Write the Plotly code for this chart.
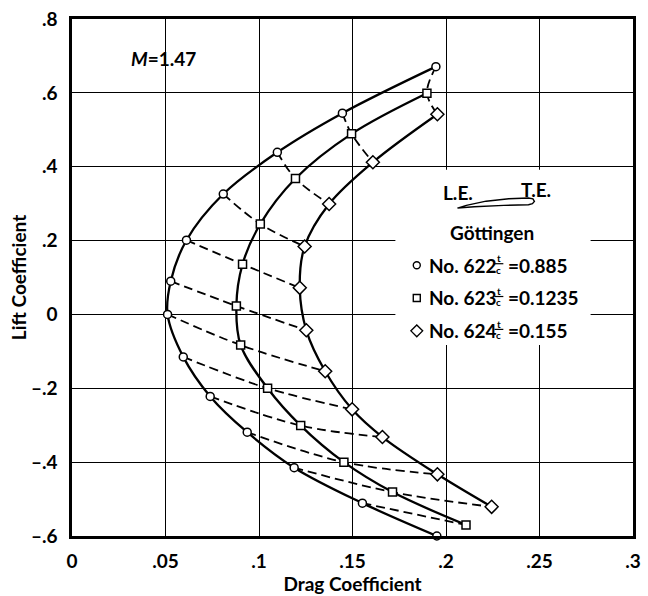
import plotly.graph_objects as go

# Göttingen profiles at M = 1.47: drag coefficient vs lift coefficient
cd_622 = [0.1946, 0.1446, 0.1098, 0.0809, 0.0612, 0.0528, 0.0511, 0.0595, 0.0739, 0.0937, 0.1188, 0.1553, 0.1951]
cl_622 = [0.671, 0.545, 0.439, 0.326, 0.201, 0.090, 0.0, -0.115, -0.222, -0.319, -0.415, -0.511, -0.600]

cd_623 = [0.1898, 0.1495, 0.1195, 0.1007, 0.0912, 0.0879, 0.0902, 0.1046, 0.1223, 0.1454, 0.1714, 0.2107]
cl_623 = [0.599, 0.489, 0.368, 0.245, 0.136, 0.023, -0.083, -0.200, -0.301, -0.400, -0.481, -0.570]

cd_624 = [0.1954, 0.1609, 0.1375, 0.1244, 0.1218, 0.1253, 0.1354, 0.1498, 0.1660, 0.1954, 0.2244]
cl_624 = [0.542, 0.412, 0.299, 0.184, 0.072, -0.043, -0.154, -0.257, -0.332, -0.433, -0.521]

profile_names = ["No. 622", "No. 623", "No. 624"]
thickness_ratios = ["0.885", "0.1235", "0.155"]
marker_symbols = ["circle", "square", "diamond"]
marker_sizes = [8, 8, 10]
key_sizes = [7, 7, 9]

x_tickvals = [0, 0.05, 0.1, 0.15, 0.2, 0.25, 0.3]
x_ticktext = ["0", ".05", ".1", ".15", ".2", ".25", ".3"]
y_tickvals = [0.8, 0.6, 0.4, 0.2, 0, -0.2, -0.4, -0.6]
y_ticktext = [".8", ".6", ".4", ".2", "0", "\u2013.2", "\u2013.4", "\u2013.6"]

W, H = 648, 596
ML, MR, MT, MB = 72, 7, 15, 56
XR = [0, 0.3]
YR = [-0.6, 0.8]
FONT = "Lato"


def X(px):
    return XR[0] + (px - ML) / (W - ML - MR) * (XR[1] - XR[0])


def Y(py):
    return YR[1] - (py - MT) / (H - MT - MB) * (YR[1] - YR[0])


fig = go.Figure()

# dashed lines joining equal angle-of-attack points of the three profiles
series = [(cd_622, cl_622), (cd_623, cl_623), (cd_624, cl_624)]
dx, dy = [], []
for i in range(len(cd_622)):
    for cd, cl in series:
        if i < len(cd):
            dx.append(cd[i])
            dy.append(cl[i])
    dx.append(None)
    dy.append(None)
fig.add_trace(go.Scatter(
    x=dx, y=dy, mode="lines", line=dict(color="black", width=1.8, dash="9px,5px", shape="spline"),
    hoverinfo="skip", showlegend=False, connectgaps=False,
))

# polar curves with open markers
for (cd, cl), sym, size in zip(series, marker_symbols, marker_sizes):
    fig.add_trace(go.Scatter(
        x=cd, y=cl, mode="lines", line=dict(color="black", width=2.3, shape="spline", smoothing=1.0),
        hoverinfo="skip", showlegend=False,
    ))
    fig.add_trace(go.Scatter(
        x=cd, y=cl, mode="markers", cliponaxis=False,
        marker=dict(symbol=sym, size=size, color="white", line=dict(color="black", width=1.5)),
        hoverinfo="skip", showlegend=False,
    ))

shapes = []
annotations = []

# white panel behind the key (covers the grid)
shapes.append(dict(type="rect", xref="x", yref="y", x0=X(400), x1=X(598), y0=Y(346), y1=Y(168),
                   fillcolor="white", line=dict(width=0), layer="between"))

# airfoil sketch
foil = [(463, 207), (480, 205.6), (510, 204.3), (535, 203.6), (539, 202.6), (541, 200.2),
        (539.5, 197.6), (535, 196.8), (515, 197.6), (492, 200.0), (472, 204.2), (463, 207)]
path = "M " + " L ".join(f"{X(a):.5f},{Y(b):.5f}" for a, b in foil) + " Z"
shapes.append(dict(type="path", xref="x", yref="y", path=path, line=dict(color="black", width=1.4),
                   fillcolor="white", layer="above"))

tfont = dict(family=FONT, size=19, color="black", weight="bold")
small = dict(family=FONT, size=10, color="black", weight="bold")
annotations.append(dict(x=X(463), y=Y(191), xref="x", yref="y", text="L.E.", showarrow=False,
                        font=tfont, xanchor="center", yanchor="middle"))
annotations.append(dict(x=X(543), y=Y(188), xref="x", yref="y", text="T.E.", showarrow=False,
                        font=tfont, xanchor="center", yanchor="middle"))
annotations.append(dict(x=X(498), y=Y(232), xref="x", yref="y", text="Göttingen", showarrow=False,
                        font=tfont, xanchor="center", yanchor="middle"))

row_y = [265, 298.3, 331.7]
key_x, key_y = [], []
for name, ratio, ry in zip(profile_names, thickness_ratios, row_y):
    key_x.append(X(421.7))
    key_y.append(Y(ry))
    annotations.append(dict(x=X(432), y=Y(ry), xref="x", yref="y", text=name, showarrow=False,
                            font=tfont, xanchor="left", yanchor="middle"))
    annotations.append(dict(x=X(505), y=Y(ry - 7), xref="x", yref="y", text="t", showarrow=False,
                            font=small, xanchor="center", yanchor="middle"))
    annotations.append(dict(x=X(505), y=Y(ry + 4.5), xref="x", yref="y", text="c", showarrow=False,
                            font=small, xanchor="center", yanchor="middle"))
    shapes.append(dict(type="line", xref="x", yref="y", x0=X(500.5), x1=X(509.5), y0=Y(ry - 1.5),
                       y1=Y(ry - 1.5), line=dict(color="black", width=1.2), layer="above"))
    annotations.append(dict(x=X(512), y=Y(ry), xref="x", yref="y", text="=" + ratio, showarrow=False,
                            font=tfont, xanchor="left", yanchor="middle"))

for k, (sym, size) in enumerate(zip(marker_symbols, key_sizes)):
    fig.add_trace(go.Scatter(
        x=[key_x[k]], y=[key_y[k]], mode="markers", cliponaxis=False,
        marker=dict(symbol=sym, size=size, color="white", line=dict(color="black", width=1.4)),
        hoverinfo="skip", showlegend=False,
    ))

annotations.append(dict(x=X(165), y=Y(55), xref="x", yref="y", text="<i>M</i>=1.47", showarrow=False,
                        font=tfont, xanchor="center", yanchor="middle"))

axis_common = dict(
    showgrid=True, gridcolor="black", gridwidth=1.1, zeroline=False,
    showline=True, linecolor="black", linewidth=2.5, mirror=True,
    ticks="", tickfont=dict(family=FONT, size=19, color="black", weight="bold"),
)

fig.update_layout(
    width=W, height=H,
    margin=dict(l=ML, r=MR, t=MT, b=MB),
    paper_bgcolor="white", plot_bgcolor="white",
    showlegend=False,
    shapes=shapes, annotations=annotations,
    xaxis=dict(range=XR, tickvals=x_tickvals, ticktext=x_ticktext, ticklabelstandoff=6,
               title=dict(text="Drag Coefficient", standoff=4,
                          font=dict(family=FONT, size=19, color="black", weight="bold")),
               **axis_common),
    yaxis=dict(range=YR, tickvals=y_tickvals, ticktext=y_ticktext, ticklabelstandoff=8,
               title=dict(text="Lift Coefficient", standoff=0,
                          font=dict(family=FONT, size=19, color="black", weight="bold")),
               **axis_common),
)

fig.write_html("out.html")
